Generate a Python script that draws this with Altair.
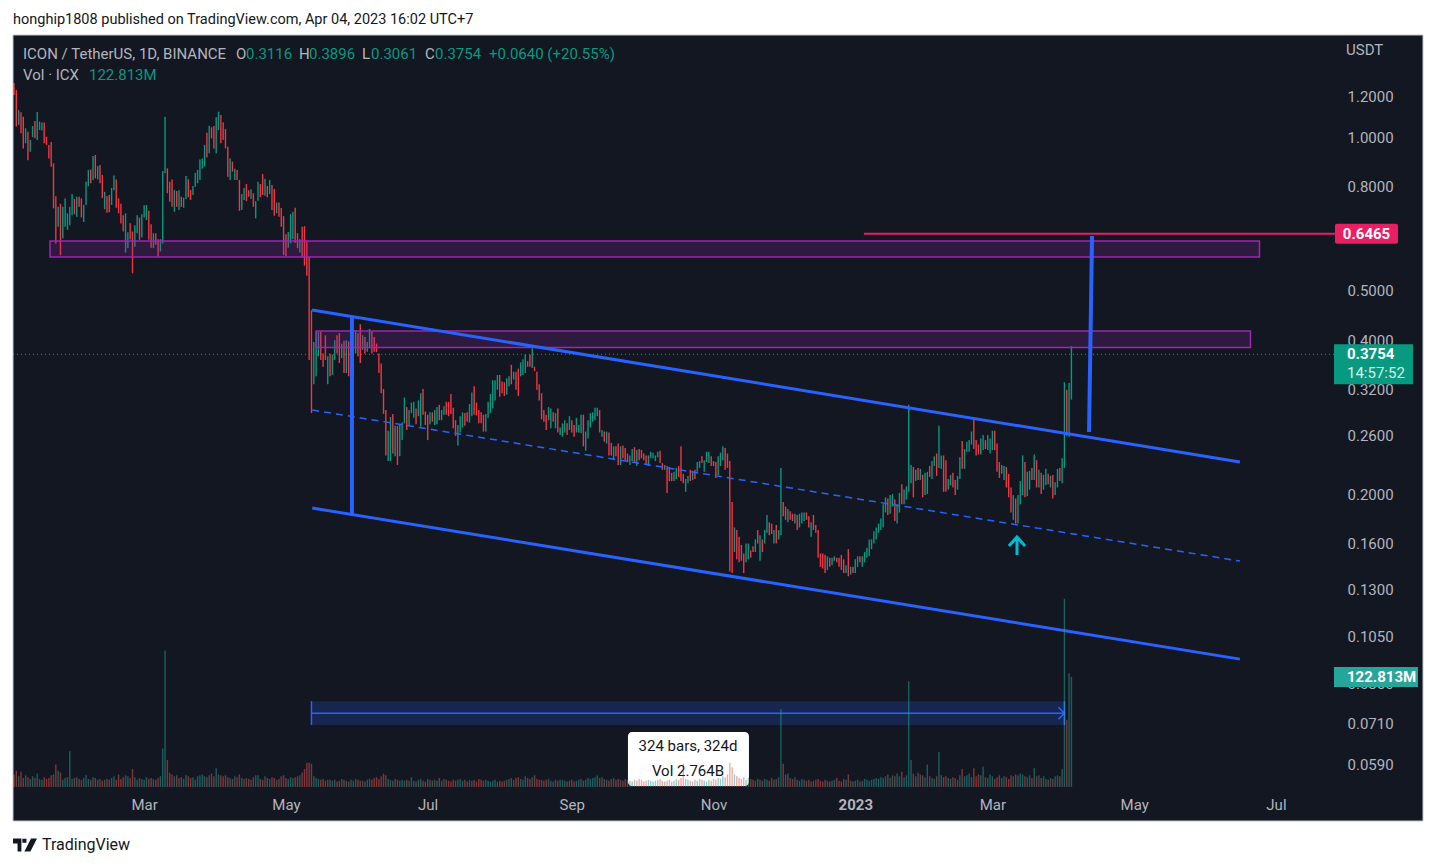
import altair as alt
import pandas as pd

# ===================== DATA =====================
first_day = "2022-01-04"   # first daily candle of ICX/USDT (Binance, 1D)

high = [
    1.275, 1.236, 1.129, 1.118, 1.096, 1.040, 1.024, 0.987, 1.051, 1.075,
    1.119, 1.072, 1.068, 1.067, 1.001, 0.965, 0.978, 0.888, 0.766, 0.730,
    0.740, 0.730, 0.758, 0.709, 0.730, 0.773, 0.756, 0.764, 0.764, 0.758,
    0.736, 0.817, 0.862, 0.864, 0.918, 0.922, 0.877, 0.881, 0.843, 0.781,
    0.766, 0.770, 0.795, 0.841, 0.826, 0.758, 0.740, 0.703, 0.709, 0.651,
    0.678, 0.653, 0.672, 0.703, 0.695, 0.706, 0.735, 0.736, 0.717, 0.675,
    0.648, 0.648, 0.631, 0.631, 0.858, 1.096, 0.868, 0.817, 0.826, 0.787,
    0.784, 0.787, 0.764, 0.761, 0.839, 0.827, 0.787, 0.802, 0.851, 0.862,
    0.904, 0.908, 0.965, 1.019, 1.052, 1.045, 1.051, 1.093, 1.121, 1.104,
    1.069, 1.037, 0.957, 0.908, 0.895, 0.867, 0.862, 0.824, 0.773, 0.795,
    0.809, 0.787, 0.790, 0.776, 0.749, 0.817, 0.809, 0.846, 0.828, 0.802,
    0.824, 0.805, 0.791, 0.744, 0.744, 0.726, 0.700, 0.645, 0.652, 0.706,
    0.714, 0.727, 0.648, 0.631, 0.667, 0.669, 0.627, 0.583,
    0.458, 0.397, 0.416, 0.416, 0.416, 0.377, 0.409, 0.372, 0.377, 0.375,
    0.400, 0.409, 0.413, 0.394, 0.399, 0.400, 0.398, 0.364, 0.389, 0.419,
    0.413, 0.430, 0.409, 0.406, 0.397, 0.421, 0.416, 0.406, 0.394, 0.377,
    0.360, 0.321, 0.292, 0.266, 0.283, 0.287, 0.272, 0.272, 0.273, 0.276,
    0.309, 0.296, 0.292, 0.302, 0.303, 0.294, 0.305, 0.315, 0.321, 0.290,
    0.286, 0.289, 0.289, 0.292, 0.296, 0.299, 0.292, 0.297, 0.303, 0.303,
    0.314, 0.295, 0.279, 0.273, 0.284, 0.289, 0.288, 0.289, 0.300, 0.316,
    0.325, 0.302, 0.292, 0.289, 0.286, 0.287, 0.303, 0.314, 0.334, 0.334,
    0.342, 0.342, 0.332, 0.331, 0.337, 0.340, 0.358, 0.347, 0.347, 0.352,
    0.362, 0.367, 0.375, 0.364, 0.375, 0.386, 0.355, 0.347, 0.328, 0.315,
    0.292, 0.286, 0.296, 0.294, 0.289, 0.288, 0.294, 0.270, 0.275, 0.279,
    0.275, 0.284, 0.279, 0.273, 0.282, 0.273, 0.286, 0.286, 0.265, 0.279,
    0.288, 0.289, 0.295, 0.295, 0.292, 0.267, 0.265, 0.265, 0.264, 0.252,
    0.248, 0.248, 0.251,
    0.248, 0.249, 0.246, 0.240, 0.238, 0.245, 0.247, 0.244, 0.245, 0.244,
    0.240, 0.238, 0.238, 0.242, 0.241, 0.238, 0.242, 0.243, 0.230, 0.228,
    0.227, 0.226, 0.220, 0.221, 0.225, 0.227, 0.248, 0.219, 0.214, 0.217,
    0.223, 0.222, 0.223, 0.231, 0.232, 0.237, 0.233, 0.242, 0.242, 0.237,
    0.232, 0.231, 0.237, 0.241, 0.248, 0.246, 0.240, 0.232, 0.193, 0.172,
    0.170, 0.165, 0.159, 0.153, 0.160, 0.160, 0.155, 0.158, 0.163, 0.170,
    0.166, 0.163, 0.170, 0.182, 0.176, 0.175, 0.170, 0.174, 0.170, 0.225,
    0.193, 0.189, 0.187, 0.185, 0.183, 0.183, 0.182, 0.183, 0.184, 0.184,
    0.184, 0.181, 0.176, 0.182, 0.174, 0.170, 0.153, 0.153, 0.152, 0.151,
    0.150, 0.150, 0.151, 0.150, 0.150, 0.152, 0.149, 0.145, 0.156, 0.144,
    0.144, 0.149, 0.151, 0.151, 0.151, 0.154, 0.157, 0.163, 0.163, 0.169,
    0.172, 0.175, 0.179, 0.191, 0.197, 0.196, 0.199, 0.200, 0.195, 0.191,
    0.201, 0.209, 0.204, 0.207, 0.299, 0.228, 0.226, 0.223, 0.225, 0.224,
    0.218, 0.220, 0.221, 0.227, 0.232, 0.237, 0.240, 0.272, 0.238, 0.238,
    0.233, 0.214, 0.218, 0.220, 0.213, 0.217, 0.236, 0.254, 0.245, 0.253,
    0.255, 0.265, 0.280, 0.255, 0.250, 0.257, 0.261, 0.255, 0.261, 0.257,
    0.266, 0.266, 0.251, 0.231, 0.228, 0.227, 0.226, 0.219, 0.206, 0.199,
    0.196, 0.199, 0.212, 0.238, 0.231, 0.221, 0.222, 0.225, 0.239, 0.233,
    0.223, 0.220, 0.218, 0.224, 0.219, 0.217, 0.218, 0.211, 0.224, 0.225,
    0.235, 0.331, 0.320, 0.330, 0.3896,
]

low = [
    1.209, 1.048, 1.056, 1.017, 0.950, 0.972, 0.901, 0.936, 0.999, 0.994,
    0.987, 1.032, 1.030, 0.972, 0.965, 0.908, 0.875, 0.725, 0.619, 0.667,
    0.587, 0.633, 0.667, 0.658, 0.672, 0.703, 0.706, 0.698, 0.730, 0.696,
    0.682, 0.736, 0.801, 0.812, 0.824, 0.830, 0.826, 0.812, 0.759, 0.722,
    0.711, 0.712, 0.736, 0.787, 0.727, 0.709, 0.677, 0.653, 0.594, 0.606,
    0.630, 0.541, 0.610, 0.648, 0.629, 0.636, 0.696, 0.688, 0.629, 0.607,
    0.606, 0.615, 0.583, 0.597, 0.619, 0.849, 0.776, 0.747, 0.730, 0.714,
    0.730, 0.720, 0.730, 0.727, 0.756, 0.762, 0.753, 0.770, 0.799, 0.812,
    0.824, 0.868, 0.875, 0.912, 0.929, 0.994, 0.950, 0.929, 1.032, 0.972,
    0.987, 0.950, 0.836, 0.824, 0.855, 0.824, 0.824, 0.717, 0.720, 0.753,
    0.749, 0.764, 0.756, 0.730, 0.693, 0.750, 0.762, 0.770, 0.767, 0.762,
    0.773, 0.720, 0.701, 0.709, 0.698, 0.667, 0.587, 0.585, 0.607, 0.619,
    0.631, 0.621, 0.606, 0.594, 0.582, 0.560, 0.535, 0.366,
    0.288, 0.328, 0.340, 0.372, 0.366, 0.355, 0.366, 0.328, 0.340, 0.342,
    0.366, 0.377, 0.361, 0.369, 0.345, 0.345, 0.340, 0.345, 0.342, 0.377,
    0.372, 0.361, 0.383, 0.377, 0.380, 0.386, 0.377, 0.380, 0.379, 0.345,
    0.315, 0.287, 0.238, 0.232, 0.232, 0.240, 0.237, 0.228, 0.237, 0.255,
    0.275, 0.267, 0.273, 0.288, 0.282, 0.274, 0.284, 0.271, 0.286, 0.273,
    0.255, 0.274, 0.277, 0.273, 0.274, 0.279, 0.279, 0.286, 0.286, 0.284,
    0.287, 0.269, 0.260, 0.249, 0.264, 0.270, 0.272, 0.277, 0.276, 0.284,
    0.286, 0.285, 0.275, 0.275, 0.265, 0.265, 0.282, 0.288, 0.294, 0.305,
    0.320, 0.310, 0.315, 0.311, 0.313, 0.325, 0.328, 0.335, 0.320, 0.311,
    0.340, 0.342, 0.345, 0.355, 0.355, 0.353, 0.348, 0.320, 0.305, 0.280,
    0.277, 0.267, 0.279, 0.269, 0.277, 0.269, 0.264, 0.261, 0.259, 0.264,
    0.261, 0.267, 0.264, 0.259, 0.264, 0.264, 0.263, 0.248, 0.243, 0.257,
    0.270, 0.277, 0.279, 0.284, 0.264, 0.259, 0.253, 0.251, 0.238, 0.238,
    0.233, 0.237, 0.228,
    0.228, 0.235, 0.233, 0.231, 0.228, 0.232, 0.231, 0.227, 0.233, 0.235,
    0.233, 0.228, 0.227, 0.235, 0.235, 0.232, 0.236, 0.230, 0.223, 0.223,
    0.201, 0.212, 0.212, 0.212, 0.214, 0.216, 0.212, 0.210, 0.202, 0.210,
    0.212, 0.213, 0.214, 0.221, 0.225, 0.230, 0.221, 0.231, 0.230, 0.227,
    0.227, 0.215, 0.218, 0.227, 0.233, 0.223, 0.225, 0.141, 0.140, 0.154,
    0.149, 0.147, 0.148, 0.140, 0.147, 0.149, 0.150, 0.154, 0.154, 0.160,
    0.148, 0.154, 0.160, 0.168, 0.166, 0.167, 0.160, 0.160, 0.163, 0.166,
    0.181, 0.178, 0.176, 0.178, 0.177, 0.175, 0.170, 0.172, 0.175, 0.177,
    0.178, 0.172, 0.165, 0.170, 0.168, 0.150, 0.144, 0.143, 0.140, 0.142,
    0.144, 0.145, 0.148, 0.147, 0.144, 0.142, 0.140, 0.140, 0.138, 0.139,
    0.140, 0.140, 0.144, 0.147, 0.144, 0.147, 0.150, 0.151, 0.156, 0.160,
    0.163, 0.168, 0.170, 0.172, 0.184, 0.182, 0.183, 0.189, 0.177, 0.175,
    0.184, 0.191, 0.191, 0.195, 0.202, 0.210, 0.197, 0.212, 0.213, 0.213,
    0.197, 0.199, 0.200, 0.216, 0.214, 0.227, 0.217, 0.225, 0.224, 0.202,
    0.202, 0.204, 0.208, 0.206, 0.199, 0.204, 0.214, 0.224, 0.224, 0.242,
    0.242, 0.250, 0.245, 0.238, 0.239, 0.239, 0.244, 0.245, 0.244, 0.240,
    0.244, 0.244, 0.221, 0.215, 0.219, 0.213, 0.206, 0.197, 0.184, 0.178,
    0.175, 0.175, 0.191, 0.199, 0.197, 0.198, 0.204, 0.213, 0.213, 0.206,
    0.206, 0.200, 0.204, 0.208, 0.209, 0.206, 0.196, 0.199, 0.206, 0.212,
    0.210, 0.225, 0.260, 0.259, 0.3061,
]

# u = close above open (green), d = close below open (red)
direction = (
    "ddudduduud" "uuuddddddu" "duuuuududd" "uuudududdu" "dduudddduu" "dduuduuudd"
    "udduuudddu" "duduudduuu" "uuududduud" "dddududduu" "dduduuddud" "uddudddduu" "uddudddd"
    "duuudddudu" "uddududuuu" "dduduudddd" "ddduududuu" "uduuuduudd" "duduuduudd"
    "ddduuudduu" "ddddduuuuu" "uddduududd" "uuuddudddd" "dduududuuu" "dudduuuduu" "uuuudududd" "udd"
    "uddduududd" "dduuuuuddu" "ddduuddduu" "duduuduuud" "dduuuddddu" "dddduuddud"
    "uduudduduu" "ddudduduuu" "dduddddddu" "duuddddudu" "duuduuuuuu" "uuuuuduudu"
    "uduuuududu" "duuduuduud" "duudduuduu" "uuddduuduu" "uddduudddu" "duuuduudud" "uduududuud" "uuduu"
)

# daily volume, millions of ICX
volume_m = [
    14, 18, 12, 17, 10, 13, 11, 9, 12, 10, 15, 9, 8, 11, 9, 10, 13, 14, 25, 18,
    16, 8, 10, 11, 40, 9, 10, 11, 9, 8, 10, 13, 9, 8, 11, 10, 8, 9, 7, 8,
    9, 8, 10, 12, 8, 14, 9, 11, 13, 12, 10, 20, 11, 8, 10, 9, 8, 11, 9, 10,
    9, 8, 10, 12, 43, 152, 30, 16, 14, 12, 13, 10, 11, 9, 13, 12, 10, 11, 8, 12,
    13, 14, 12, 11, 13, 15, 12, 21, 14, 13, 12, 13, 11, 10, 9, 12, 11, 14, 10, 9,
    10, 9, 8, 11, 13, 13, 9, 8, 12, 10, 9, 11, 10, 8, 9, 12, 13, 10, 9, 11,
    10, 11, 12, 13, 16, 20, 27, 27,
    26, 12, 10, 9, 8, 9, 7, 8, 8, 7, 8, 6, 7, 9, 8, 7, 6, 8, 7, 9,
    8, 7, 7, 6, 8, 9, 8, 10, 11, 9, 12, 15, 13, 9, 8, 7, 9, 8, 7, 8,
    7, 8, 7, 11, 7, 6, 8, 9, 7, 6, 9, 8, 7, 8, 7, 10, 7, 9, 8, 7,
    6, 8, 7, 8, 9, 7, 8, 6, 8, 7, 8, 6, 9, 8, 7, 8, 7, 6, 7, 8,
    6, 7, 6, 7, 8, 9, 10, 8, 10, 11, 9, 8, 12, 10, 9, 11, 13, 9, 8, 8,
    7, 8, 9, 7, 6, 8, 7, 8, 8, 7, 6, 7, 8, 6, 7, 8, 9, 7, 8, 10,
    9, 10, 11, 13, 10, 11, 9, 8, 7, 9, 10, 8, 9,
    8, 7, 9, 8, 7, 6, 8, 7, 9, 8, 6, 7, 8, 7, 6, 7, 8, 9, 7, 6,
    7, 8, 6, 7, 9, 8, 10, 26, 9, 8, 7, 6, 8, 7, 9, 8, 7, 6, 8, 7,
    9, 8, 10, 9, 12, 11, 14, 27, 22, 14, 12, 10, 9, 11, 8, 10, 9, 8, 7, 9,
    8, 7, 9, 8, 7, 10, 8, 9, 11, 87, 26, 14, 15, 10, 9, 11, 8, 7, 9, 8,
    7, 8, 6, 7, 8, 9, 7, 6, 8, 7, 6, 7, 8, 10, 7, 6, 9, 8, 14, 7,
    6, 7, 8, 6, 7, 9, 8, 7, 8, 9, 10, 9, 11, 10, 12, 14, 10, 13, 12, 15,
    12, 17, 11, 13, 118, 30, 15, 12, 16, 14, 13, 11, 25, 12, 10, 9, 12, 39, 13, 11,
    12, 10, 9, 11, 10, 8, 13, 20, 12, 13, 15, 11, 21, 12, 14, 13, 23, 11, 10, 14,
    12, 9, 11, 13, 10, 12, 11, 9, 13, 12, 14, 13, 15, 14, 12, 11, 13, 10, 21, 12,
    13, 10, 12, 9, 8, 10, 9, 12, 13, 12, 20, 210, 75, 127, 122.813,
]

# legend / header texts
header_text = "honghip1808 published on TradingView.com, Apr 04, 2023 16:02 UTC+7"
series_title = "ICON / TetherUS, 1D, BINANCE"
ohlc_keys = ["O", "H", "L", "C"]
ohlc_values = ["0.3116", "0.3896", "0.3061", "0.3754"]
change_text = "+0.0640 (+20.55%)"
volume_title = "Vol · ICX"
volume_text = "122.813M"
countdown_text = "14:57:52"
last_price = 0.3754
last_volume_m = 122.813

price_ticks = [1.2, 1.0, 0.8, 0.5, 0.4, 0.32, 0.26, 0.2, 0.16, 0.13, 0.105, 0.085, 0.071, 0.059]
month_ticks = ["2022-03-01", "2022-05-01", "2022-07-01", "2022-09-01", "2022-11-01",
               "2023-01-01", "2023-03-01", "2023-05-01", "2023-07-01"]

# drawings on the chart
zone_start = ["2022-01-19T12:00", "2022-05-14T00:00"]
zone_end = ["2023-06-23T22:00", "2023-06-20T01:00"]
zone_top = [0.6257, 0.4170]
zone_bottom = [0.5821, 0.3871]

target_start = "2023-01-04T17:00"
target_price = 0.6465

channel_start = ["2022-05-12T06:00", "2022-05-12T08:00", "2022-05-12T08:00"]
channel_end = ["2023-06-15T12:00", "2023-06-15T12:00", "2023-06-15T12:00"]
channel_p1 = [0.4584, 0.2920, 0.1877]
channel_p2 = [0.2310, 0.1478, 0.0950]
channel_dashed = [False, True, False]

leg_start = ["2022-05-29T10:00", "2023-04-12T21:00"]
leg_end = ["2022-05-29T10:00", "2023-04-11T14:00"]
leg_p1 = [0.4442, 0.6400]
leg_p2 = [0.1827, 0.2645]

range_start = "2022-05-12"
range_end = "2023-04-01"
range_mid = "2022-10-21"
range_top = 0.0786
range_bottom = 0.0706
range_line = 0.0744
range_labels = ["324 bars, 324d", "Vol 2.764B"]

arrow_time = "2023-03-11T14:00"
arrow_price = 0.1582

# ===================== STYLE / LAYOUT =====================
FONT = "Roboto"
BG = "#131722"
UP = "#089981"
DOWN = "#f23645"
VUP = "#26a69a"
VDOWN = "#ef5350"
AXC = "#b2b5be"
BLUE = "#2962ff"
PURPLE = "#9c27b0"
PINK = "#e91e63"
CYAN = "#00bcd4"
INK = "#131722"

W, H = 1324, 755            # pane size (page x 13..1337, y 35..790)
PX_PER_DAY = 2.324
DAY = 86_400_000


def ms(s):
    return int(pd.Timestamp(s).tz_localize("UTC").value // 1_000_000)


t0 = ms(first_day)
n = min(len(high), len(low), len(direction), len(volume_m))
candles = pd.DataFrame({
    "t": [t0 + i * DAY for i in range(n)],
    "hi": high[:n],
    "lo": low[:n],
    "dir": list(direction[:n]),
    "vol": [v * 1e6 for v in volume_m[:n]],
})
c_up = candles[candles["dir"] == "u"]
c_dn = candles[candles["dir"] == "d"]

x_domain = [t0 - DAY / PX_PER_DAY, t0 + (W - 1) * DAY / PX_PER_DAY]
XS = alt.Scale(type="utc", domain=x_domain)
XAX = alt.Axis(
    values=[ms(m) for m in month_ticks],
    labelExpr="utcmonth(datum.value) == 0 ? utcFormat(datum.value, '%Y') : utcFormat(datum.value, '%b')",
    labelFontWeight={"condition": {"test": "utcmonth(datum.value) == 0", "value": "bold"}, "value": "normal"},
    labelColor=AXC, labelFont=FONT, labelFontSize=15, ticks=False, tickSize=0,
    domain=False, grid=False, labelPadding=7, title=None, labelOverlap=False, labelFlush=False,
)
YS = alt.Scale(type="log", domain=[0.05266, 1.5839], nice=False)
YAX = alt.Axis(
    orient="right", values=price_ticks, format=".4f", labelColor=AXC, labelFont=FONT,
    labelFontSize=15, ticks=False, tickSize=0, domain=False, grid=False, labelPadding=10,
    title=None, labelOverlap=False, labelFlush=False,
)
VS = alt.Scale(domain=[-3.35e6, 839e6], nice=False, zero=False)


def X(f):
    return alt.X(f, type="temporal", scale=XS, axis=XAX)


def Y(f, axis=True):
    return alt.Y(f, type="quantitative", scale=YS, axis=YAX if axis else None)


ONE = pd.DataFrame({"k": [0]})

# ---------------- group A : price pane drawings ----------------
cand_up = alt.Chart(c_up).mark_rule(color=UP, strokeWidth=1.4).encode(x=X("t"), y=Y("hi"), y2="lo")
cand_dn = alt.Chart(c_dn).mark_rule(color=DOWN, strokeWidth=1.4).encode(x=X("t"), y=Y("hi"), y2="lo")

zones = pd.DataFrame({"s": [ms(s) for s in zone_start], "e": [ms(s) for s in zone_end],
                      "top": zone_top, "bot": zone_bottom})
zone_layer = alt.Chart(zones).mark_rect(fill=PURPLE, fillOpacity=0.2, stroke=PURPLE, strokeWidth=1.5).encode(
    x=X("s"), x2="e", y=Y("top"), y2="bot")

target = pd.DataFrame({"s": [ms(target_start)], "p": [target_price]})
target_line = alt.Chart(target).mark_rule(color=PINK, strokeWidth=2).encode(
    x=X("s"), x2=alt.value(1322), y=Y("p"))

lastdf = pd.DataFrame({"p": [last_price]})
price_line = alt.Chart(lastdf).mark_rule(color=UP, strokeWidth=1, strokeDash=[1, 3]).encode(
    x=alt.value(0), x2=alt.value(1321), y=Y("p"))

chan = pd.DataFrame({"s": [ms(s) for s in channel_start], "e": [ms(s) for s in channel_end],
                     "p1": channel_p1, "p2": channel_p2, "dashed": channel_dashed})
chan_solid = alt.Chart(chan[~chan["dashed"]]).mark_rule(color=BLUE, strokeWidth=3).encode(
    x=X("s"), x2="e", y=Y("p1"), y2="p2")
chan_dash = alt.Chart(chan[chan["dashed"]]).mark_rule(color=BLUE, strokeWidth=1.5, strokeDash=[7, 5]).encode(
    x=X("s"), x2="e", y=Y("p1"), y2="p2")

legs = pd.DataFrame({"s": [ms(s) for s in leg_start], "e": [ms(s) for s in leg_end],
                     "p1": leg_p1, "p2": leg_p2})
leg_layer = alt.Chart(legs).mark_rule(color=BLUE, strokeWidth=4).encode(
    x=X("s"), x2="e", y=Y("p1"), y2="p2")

rng = pd.DataFrame({"s": [ms(range_start)], "e": [ms(range_end)], "m": [ms(range_mid)],
                    "top": [range_top], "bot": [range_bottom], "mid": [range_line]})
rng_edges = pd.DataFrame({"t": [ms(range_start), ms(range_end)],
                          "top": [range_top, range_top], "bot": [range_bottom, range_bottom]})
rng_rect = alt.Chart(rng).mark_rect(fill=BLUE, fillOpacity=0.2).encode(x=X("s"), x2="e", y=Y("top"), y2="bot")
rng_line = alt.Chart(rng).mark_rule(color=BLUE, strokeWidth=1.5).encode(x=X("s"), x2="e", y=Y("mid"))
rng_edge = alt.Chart(rng_edges).mark_rule(color=BLUE, strokeWidth=1.5).encode(x=X("t"), y=Y("top"), y2="bot")
rng_head = alt.Chart(rng).mark_point(shape="M-1,-1L0,0L-1,1", size=144, filled=False, stroke=BLUE,
                                     strokeWidth=1.5, opacity=1).encode(x=X("e"), y=Y("mid"))
rng_box = alt.Chart(rng).mark_rect(fill="white", cornerRadius=4, xOffset=-60, x2Offset=61,
                                   yOffset=7, y2Offset=61).encode(x=X("m"), x2="m", y=Y("bot"), y2="bot")

arrow = pd.DataFrame({"t": [ms(arrow_time)], "p": [arrow_price]})
arrow_layer = alt.Chart(arrow).mark_point(shape="M-0.9,0L0,-1L0.9,0M0,-1L0,1", size=324, filled=False,
                                          stroke=CYAN, strokeWidth=3, opacity=1).encode(x=X("t"), y=Y("p"))

group_a = alt.layer(cand_up, cand_dn, zone_layer, target_line, price_line, chan_solid, chan_dash,
                    leg_layer, rng_rect, rng_line, rng_edge, rng_head, arrow_layer, rng_box)

# ---------------- group B : volume ----------------
v_up = alt.Chart(c_up).mark_rule(color=VUP, strokeWidth=1.4, opacity=0.5).encode(
    x=X("t"), y=alt.Y("vol:Q", scale=VS, axis=None), y2=alt.datum(0))
v_dn = alt.Chart(c_dn).mark_rule(color=VDOWN, strokeWidth=1.4, opacity=0.5).encode(
    x=X("t"), y=alt.Y("vol:Q", scale=VS, axis=None), y2=alt.datum(0))
vlab = pd.DataFrame({"v": [last_volume_m * 1e6]})
v_box = alt.Chart(vlab).mark_rect(fill=VUP, yOffset=-10, y2Offset=10).encode(
    x=alt.value(1321), x2=alt.value(1405), y=alt.Y("v:Q", scale=VS, axis=None), y2="v")
v_txt = alt.Chart(vlab).mark_text(align="left", color="white", font=FONT, fontSize=15, fontWeight="bold").encode(
    x=alt.value(1334), y=alt.Y("v:Q", scale=VS, axis=None), text=alt.value(volume_text))
group_b = alt.layer(v_up, v_dn, v_box, v_txt)

# ---------------- group C : labels on top ----------------
layers_c = []
for i, txt in enumerate(range_labels):
    layers_c.append(alt.Chart(rng).mark_text(align="center", color=INK, font=FONT, fontSize=15,
                                             yOffset=21 + 25 * i).encode(
        x=X("m"), y=Y("bot", axis=False), text=alt.value(txt)))

tgt_box = alt.Chart(target).mark_rect(fill=PINK, cornerRadius=2, yOffset=-10, y2Offset=10).encode(
    x=alt.value(1322), x2=alt.value(1385), y=Y("p", axis=False), y2="p")
tgt_txt = alt.Chart(target).mark_text(align="center", color="white", font=FONT, fontSize=15, fontWeight="bold").encode(
    x=alt.value(1353.5), y=Y("p", axis=False), text=alt.value(f"{target_price:.4f}"))
last_box = alt.Chart(lastdf).mark_rect(fill=UP, yOffset=-10, y2Offset=30).encode(
    x=alt.value(1321), x2=alt.value(1400), y=Y("p", axis=False), y2="p")
last_txt = alt.Chart(lastdf).mark_text(align="left", color="white", font=FONT, fontSize=15, fontWeight="bold").encode(
    x=alt.value(1334), y=Y("p", axis=False), text=alt.value(f"{last_price:.4f}"))
last_cd = alt.Chart(lastdf).mark_text(align="left", color="#d3efe9", font=FONT, fontSize=15, yOffset=19).encode(
    x=alt.value(1334), y=Y("p", axis=False), text=alt.value(countdown_text))
layers_c += [tgt_box, tgt_txt, last_box, last_txt, last_cd]


def label(txt, x, y, color=AXC, size=15, weight="normal"):
    return alt.Chart(ONE).mark_text(align="left", baseline="middle", color=color, font=FONT,
                                    fontSize=size, fontWeight=weight).encode(
        x=alt.value(x), y=alt.value(y), text=alt.value(txt))


layers_c.append(label("USDT", 1333, 15))
layers_c.append(label(series_title, 10, 19))
key_x = [223, 286, 349, 412]
val_x = [233, 296, 358, 422]
for k, v, kx, vx in zip(ohlc_keys, ohlc_values, key_x, val_x):
    layers_c.append(label(k, kx, 19))
    layers_c.append(label(v, vx, 19, color=UP))
layers_c.append(label(change_text, 476, 19, color=UP))
layers_c.append(label(volume_title, 10, 40))
layers_c.append(label(volume_text, 76, 40, color=UP))


def box(x, x2, y, y2, **kw):
    return alt.Chart(ONE).mark_rect(**kw).encode(
        x=alt.value(x), x2=alt.value(x2), y=alt.value(y), y2=alt.value(y2))


layers_c += [
    box(-13, 1424, -35, 0, fill="white"),
    box(-13, 1424, 786, 831, fill="white"),
    box(-13, 0, 0, 786, fill="white"),
    box(1410, 1424, 0, 786, fill="white"),
    box(0, 1410, 0, 786, fillOpacity=0, stroke="#c3c6cd", strokeWidth=1),
]
layers_c.append(label(header_text, 0, -15, color=INK, size=14.5))
logo = alt.Chart(ONE).mark_point(
    shape="M-1,-0.55L-0.3,-0.55L-0.3,0.55L-0.62,0.55L-0.62,-0.12L-1,-0.12Z"
          "M-0.22,-0.52L0.12,-0.52L0.12,-0.18L-0.22,-0.18Z"
          "M0.5,-0.55L1,-0.55L0.45,0.55L-0.05,0.55Z",
    size=576, filled=True, fill=INK, opacity=1, strokeWidth=0).encode(x=alt.value(12), y=alt.value(810))
layers_c.append(logo)
layers_c.append(label("TradingView", 29, 810, color=INK, size=16))
group_c = alt.layer(*layers_c)

chart = alt.layer(group_a, group_b, group_c).resolve_scale(y="independent").properties(
    width=W, height=H,
    autosize=alt.AutoSizeParams(type="none"),
    padding={"left": 13, "top": 35, "right": 100, "bottom": 76},
).configure(background=BG).configure_view(strokeWidth=0)

chart.save("out.html", embed_options={"renderer": "svg", "actions": False})
